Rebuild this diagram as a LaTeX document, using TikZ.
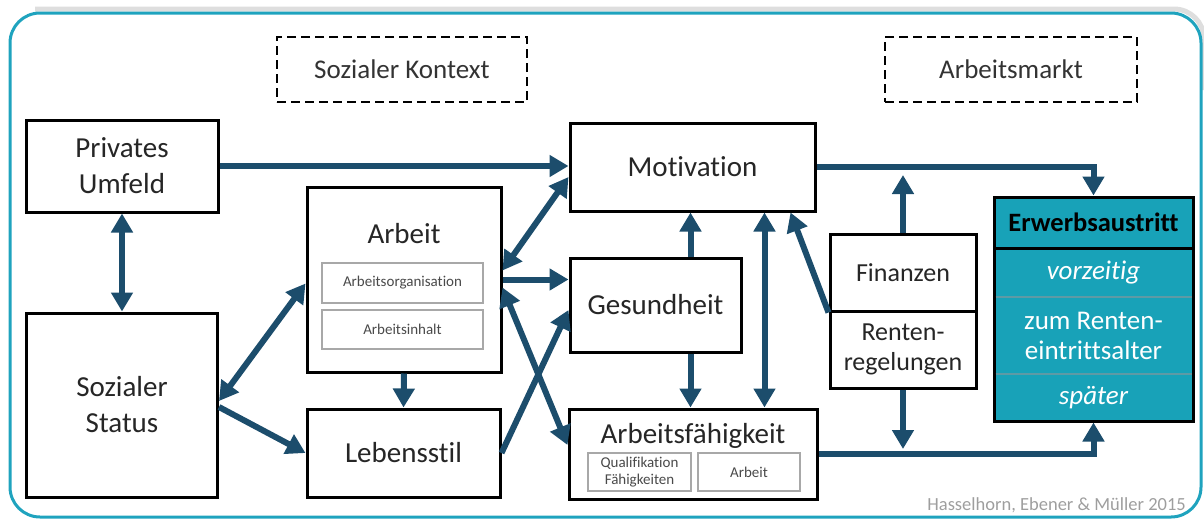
\documentclass[tikz,border=0pt]{standalone}
\usepackage{fontspec}
\setmainfont{Carlito}[Ligatures={NoCommon,NoRequired,NoContextual}]
\usetikzlibrary{arrows.meta,calc}
\definecolor{frame}{HTML}{1FA3BE}
\definecolor{arr}{HTML}{1C4D6C}
\definecolor{tealbox}{HTML}{18A2B8}
\definecolor{subgray}{HTML}{A8A8A8}
\definecolor{subtext}{HTML}{4A4A4A}
\definecolor{divline}{HTML}{5E9AA5}
\begin{document}
\begin{tikzpicture}[x=1pt,y=-1pt,
  box/.style={draw=black, line width=3pt, fill=white, inner sep=0pt, align=center,
    font=\fontsize{29}{36}\selectfont, text=black!85},
  fbox/.style={box, font=\fontsize{26}{30}\selectfont},
  dbox/.style={draw=black, line width=2.5pt, dash pattern=on 9pt off 5pt, inner sep=0pt,
    font=\fontsize{27}{32}\selectfont, text=black!80},
  sub/.style={draw=subgray, line width=1.3pt, inner sep=0pt, align=center,
    font=\fontsize{15}{17}\selectfont, text=subtext},
  ttl/.style={inner sep=0pt, font=\fontsize{29}{36}\selectfont, text=black!85},
  eatxt/.style={inner sep=0pt, align=center, font=\fontsize{27}{30}\selectfont, text=white},
  link/.style={draw=arr, line width=6pt, -{Triangle[length=19pt,width=21pt]}},
  dlink/.style={draw=arr, line width=6pt, {Triangle[length=19pt,width=21pt]}-{Triangle[length=19pt,width=21pt]}},
]
\useasboundingbox (0,0) rectangle (1204,520);
% frame
\draw[black!13, line width=5pt, rounded corners=30pt] (35,9) -- (1204,9) -- (1204,90);
\draw[frame, line width=3pt, rounded corners=30pt] (10,13) rectangle (1201,517);

% dashed context boxes
\node[dbox, minimum width=250pt, minimum height=65pt] (sk) at (402,69.5) {Sozialer Kontext};
\node[dbox, minimum width=252pt, minimum height=65pt] (am) at (1011,69.5) {Arbeitsmarkt};

% main boxes
\node[box, minimum width=192pt, minimum height=92pt] (pu) at (122,166) {Privates\\Umfeld};
\node[box, minimum width=191pt, minimum height=184pt] (ss) at (122,405) {Sozialer\\Status};
\node[box, minimum width=194pt, minimum height=185pt] (arb) at (404,279.5) {};
\node[ttl] (arbt) at (404,234) {Arbeit};
\node[sub, minimum width=161pt, minimum height=40pt] (ao) at (402.5,283) {Arbeitsorganisation};
\node[sub, minimum width=161pt, minimum height=39pt] (ai) at (402.5,329.5) {Arbeitsinhalt};
\node[box, minimum width=193pt, minimum height=88pt] (leb) at (403.5,453) {Lebensstil};
\node[box, minimum width=245pt, minimum height=88pt] (mot) at (692.5,167) {Motivation};
\node[box, minimum width=171pt, minimum height=94pt] (gs) at (655.5,305) {Gesundheit};
\node[box, minimum width=248pt, minimum height=90pt] (af) at (693,454) {};
\node[ttl] (aft) at (693,436) {Arbeitsfähigkeit};
\node[sub, minimum width=103pt, minimum height=38pt] (qf) at (639.5,472) {Qualifikation\\Fähigkeiten};
\node[sub, minimum width=102pt, minimum height=38pt] (afa) at (749,472) {Arbeit};
\node[fbox, minimum width=146pt, minimum height=77pt] (fin) at (903,272.5) {Finanzen};
\node[fbox, minimum width=146pt, minimum height=77pt] (ren) at (903,349.5) {Renten-\\regelungen};

% Erwerbsaustritt
\node[draw=black, line width=3pt, fill=tealbox, minimum width=199pt, minimum height=224pt, inner sep=0pt] (ea) at (1093.5,309) {};
\draw[divline, line width=1.5pt] (995.5,297) -- (1191.5,297);
\draw[divline, line width=1.5pt] (995.5,374) -- (1191.5,374);
\draw[black, line width=3pt] (994,248) -- (1193,248);
\node[inner sep=0pt, font=\fontsize{26.5}{30}\selectfont\bfseries, text=black] (eah) at (1093.5,222.5) {Erwerbsaustritt};
\node[eatxt, font=\fontsize{27}{30}\selectfont\itshape] (ea1) at (1093.5,272.5) {vorzeitig};
\node[eatxt] (ea2) at (1093.5,336) {zum Renten-\\eintrittsalter};
\node[eatxt, font=\fontsize{27}{30}\selectfont\itshape] (ea3) at (1093.5,397.5) {später};

% credit
\node[inner sep=0pt, anchor=east, font=\fontsize{18.5}{20}\selectfont, text=black!38] (cr) at (1186,505) {Hasselhorn, Ebener \& Müller 2015};

% helper coordinates
\coordinate (gsx) at ([xshift=35pt]gs.north);
\coordinate (gsy) at ([xshift=35pt]gs.south);
\coordinate (mx) at ([xshift=72pt]mot.south);
\coordinate (motf) at ([xshift=98pt]mot.south);
\coordinate (fintop) at (903,175);
\coordinate (renbot) at (903,449);

% connectors
\draw[link] (pu.east) -- (pu.east -| mot.west);
\draw[dlink] (pu.south) -- (ss.north);
\draw[dlink] ([yshift=4pt]ss.east) -- ([yshift=-4pt]arb.west);
\draw[link] ([yshift=-2pt]ss.east) -- (leb.west);
\draw[link] (arb.south) -- (leb.north);
\draw[dlink] ([yshift=9pt]arb.east) -- ([yshift=-10pt]mot.west);
\draw[link] (arb.east) -- (arb.east -| gs.west);
\draw[dlink] ([yshift=-8pt]arb.east) -- ([yshift=9pt]af.west);
\draw[link] (leb.east) -- ([yshift=-5pt]gs.west);
\draw[link] (gsx) -- (gsx |- mot.south);
\draw[link] (gsy) -- (gsy |- af.north);
\draw[dlink] (mx) -- (mx |- af.north);
\draw[link] (fin.south west) -- (motf);
\draw[link] (fin.north) -- (fintop);
\draw[link] (ren.south) -- (renbot);
\draw[link] (mot.east) -| (ea.north);
\draw[link] (af.east) -| (ea.south);
\end{tikzpicture}
\end{document}
